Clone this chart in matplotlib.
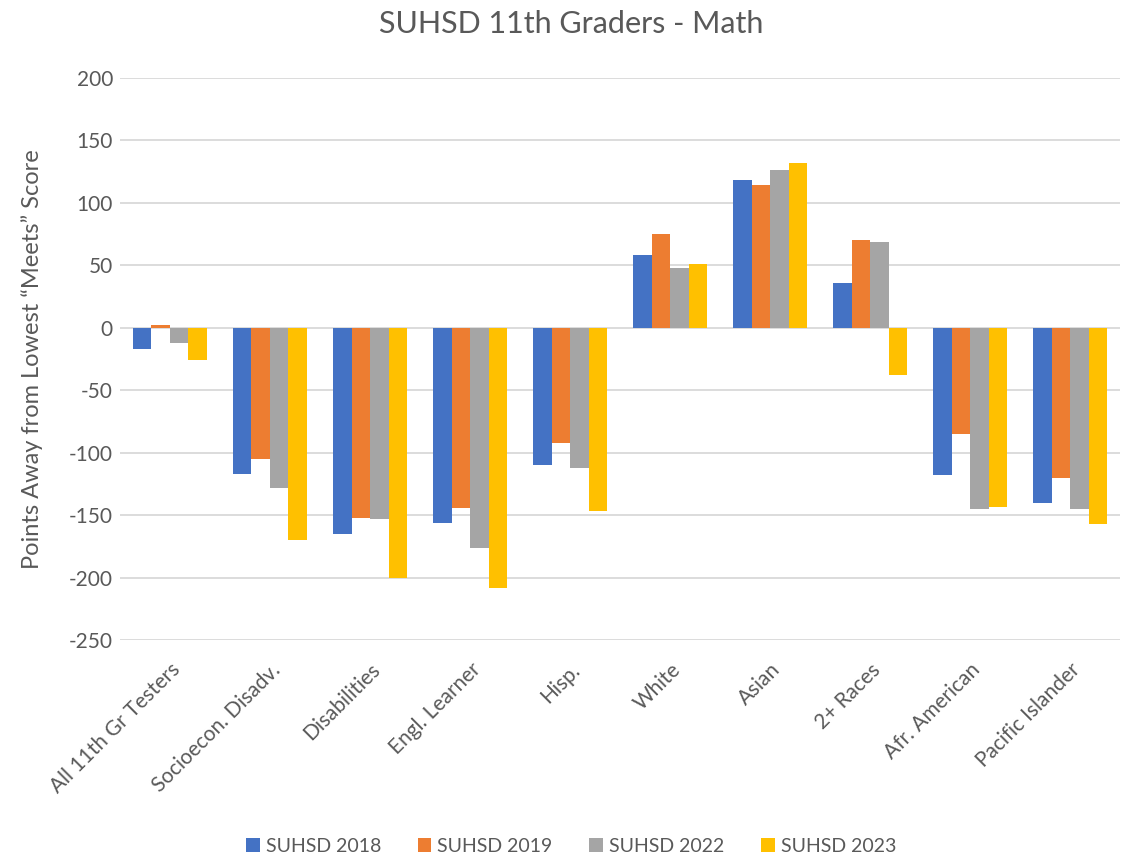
import matplotlib.pyplot as plt
import numpy as np

# Datos
categorias = ['All 11th Gr Testers', 'Socioecon. Disadv.', 'Disabilities', 'Engl. Learner',
              'Hisp.', 'White', 'Asian', '2+ Races', 'Afr. American', 'Pacific Islander']
series = ['SUHSD 2018', 'SUHSD 2019', 'SUHSD 2022', 'SUHSD 2023']
suhsd_2018 = [-17, -117, -165, -156, -110, 58, 118, 36, -118, -140]
suhsd_2019 = [2, -105, -152, -144, -92, 75, 114, 70, -85, -120]
suhsd_2022 = [-12, -128, -153, -176, -112, 48, 126, 69, -145, -145]
suhsd_2023 = [-26, -170, -200, -208, -147, 51, 132, -38, -143, -157]
colores = ['#4472C4', '#ED7D31', '#A5A5A5', '#FFC000']

plt.rcParams['font.family'] = ['Lato', 'DejaVu Sans']
plt.rcParams['axes.unicode_minus'] = False
gris = '#595959'

fig = plt.figure(figsize=(11.42, 8.57), dpi=100)
ax = fig.add_axes([0.105, 0.253, 0.876, 0.656])

x = np.arange(len(categorias))
ancho = 0.185
valores = [suhsd_2018, suhsd_2019, suhsd_2022, suhsd_2023]
for i, (serie, vals) in enumerate(zip(series, valores)):
    ax.bar(x + (i - 1.5) * ancho, vals, ancho, color=colores[i], label=serie, zorder=3)

ax.set_xlim(-0.5, len(categorias) - 0.5)
ax.set_ylim(-250, 200)
ax.set_yticks(np.arange(-250, 201, 50))
ax.grid(axis='y', color='#D9D9D9', linewidth=1.3, zorder=0)
for s in ax.spines.values():
    s.set_visible(False)
ax.tick_params(length=0, colors=gris, labelsize=15)
ax.tick_params(axis='y', pad=5)
ax.set_xticks(x)
ax.set_xticklabels(categorias, rotation=45, ha='right', rotation_mode='anchor')
ax.tick_params(axis='x', pad=14)

ax.set_ylabel('Points Away from Lowest \u201cMeets\u201d Score', fontsize=17, color=gris)
ax.yaxis.set_label_coords(-0.077, 0.5)
fig.suptitle('SUHSD 11th Graders - Math', fontsize=22, color=gris, y=0.988)

fig.legend(loc='lower center', ncol=4, frameon=False, fontsize=14, labelcolor=gris,
           bbox_to_anchor=(0.5, -0.018), handlelength=0.7, handleheight=0.7,
           handletextpad=0.3, columnspacing=1.9)

plt.savefig('out.png', dpi=100)
